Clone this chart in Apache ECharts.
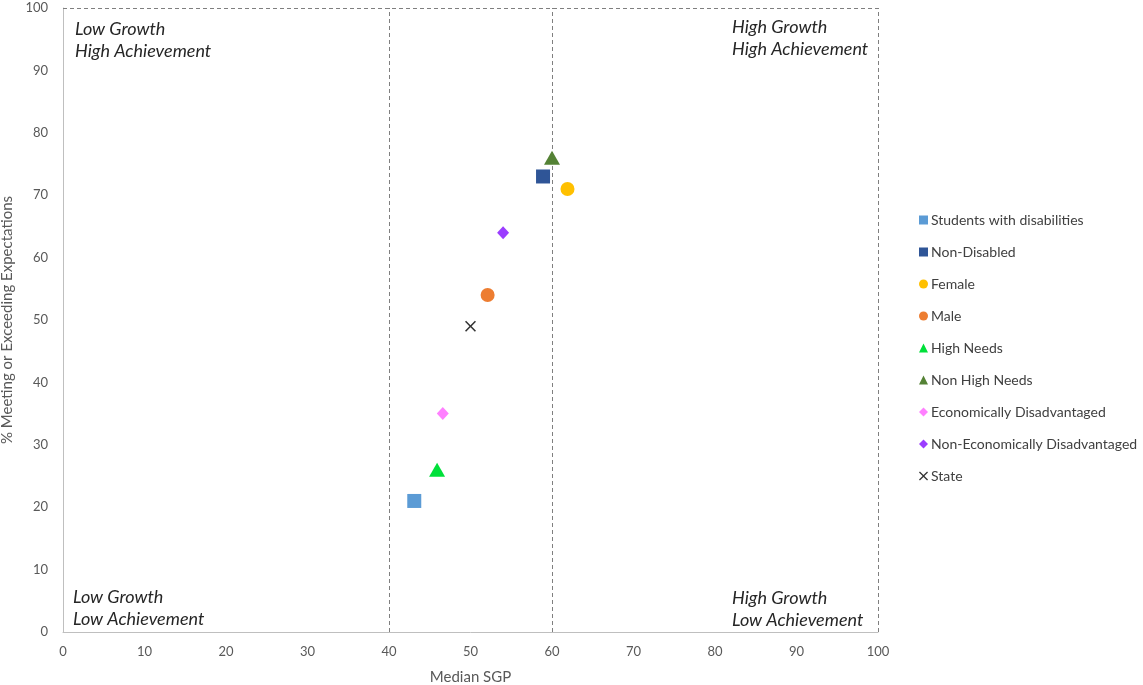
<!DOCTYPE html>
<html><head><meta charset="utf-8">
<script src="https://cdn.jsdelivr.net/npm/echarts@6/dist/echarts.min.js"></script>
<style>html,body{margin:0;padding:0;background:#fff}#c{width:1143px;height:685px}</style>
</head><body><div id="c"></div>
<script>
const seriesNames = ["Students with disabilities","Non-Disabled","Female","Male","High Needs","Non High Needs","Economically Disadvantaged","Non-Economically Disadvantaged","State"];
const xValues = [43.1, 58.9, 61.9, 52.1, 45.9, 60.0, 46.6, 54.0, 50.0];
const yValues = [21, 73, 71, 54, 26, 76, 35, 64, 49];
const colors = ["#5B9BD5","#2F5597","#FFC000","#ED7D31","#00E03A","#548235","#FF80FF","#9B3DFF","#333333"];
const symbols = ["rect","rect","circle","circle","triangle","triangle","diamond","diamond","path://M0,1L1,0L5,4L9,0L10,1L6,5L10,9L9,10L5,6L1,10L0,9L4,5Z"];
const sizes = [14,14,14,14,[16,14],[16,14],[12,13],[12,13],11];
const dividerX = [40, 60];
const quadrantTexts = [["Low Growth","High Achievement"],["High Growth","High Achievement"],["Low Growth","Low Achievement"],["High Growth","Low Achievement"]];
const xTicks = {min:0,max:100,interval:10};
const yTicks = {min:0,max:100,interval:10};

const chart = echarts.init(document.getElementById('c'));
const series = seriesNames.map((n,i)=>({
  name:n, type:'scatter', data:[[xValues[i], yValues[i]]],
  symbol:symbols[i], symbolSize:sizes[i],
  itemStyle:{color:colors[i], opacity:1},
  z:5
}));
series.push({
  type:'scatter', data:[], silent:true,
  markLine:{
    silent:true, symbol:'none', label:{show:false},
    lineStyle:{color:'#7f7f7f', type:[4,3], width:1},
    data:[...dividerX.map(v=>({xAxis:v})), {xAxis:xTicks.max}, {yAxis:yTicks.max}]
  }
});
const qStyle = {fontFamily:'Lato', fontStyle:'italic', fontSize:18, fill:'#262626', lineHeight:22};
chart.setOption({
  animation:false,
  grid:{left:63, right:265, top:8, bottom:53, outerBoundsMode:'none', containLabel:false},
  xAxis:{type:'value', min:xTicks.min, max:xTicks.max, interval:xTicks.interval,
    name:'Median SGP', nameLocation:'middle', nameGap:38,
    nameTextStyle:{fontFamily:'Lato', fontSize:15, color:'#595959'},
    axisLine:{show:true, lineStyle:{color:'#bfbfbf'}}, axisTick:{show:false},
    splitLine:{show:false},
    axisLabel:{fontFamily:'Lato', fontSize:13, color:'#595959', margin:13}},
  yAxis:{type:'value', min:yTicks.min, max:yTicks.max, interval:yTicks.interval,
    name:'% Meeting or Exceeding Expectations', nameLocation:'middle', nameGap:42,
    nameTextStyle:{fontFamily:'Lato', fontSize:15, color:'#595959'},
    axisLine:{show:true, lineStyle:{color:'#bfbfbf'}}, axisTick:{show:false},
    splitLine:{show:false},
    axisLabel:{fontFamily:'Lato', fontSize:13, color:'#595959', margin:15}},
  legend:{orient:'vertical', left:914, top:208, itemWidth:9, itemHeight:9, itemGap:18,
    data:seriesNames.map((n,i)=>({name:n, icon:symbols[i]})),
    textStyle:{fontFamily:'Lato', fontSize:14, color:'#404040', padding:[0,0,0,-2]}},
  graphic:[
    {type:'text', left:75, top:18, style:Object.assign({text:quadrantTexts[0].join('\n')}, qStyle)},
    {type:'text', left:732, top:16, style:Object.assign({text:quadrantTexts[1].join('\n')}, qStyle)},
    {type:'text', left:73, top:586, style:Object.assign({text:quadrantTexts[2].join('\n')}, qStyle)},
    {type:'text', left:732, top:587, style:Object.assign({text:quadrantTexts[3].join('\n')}, qStyle)}
  ],
  series:series
});
</script></body></html>
